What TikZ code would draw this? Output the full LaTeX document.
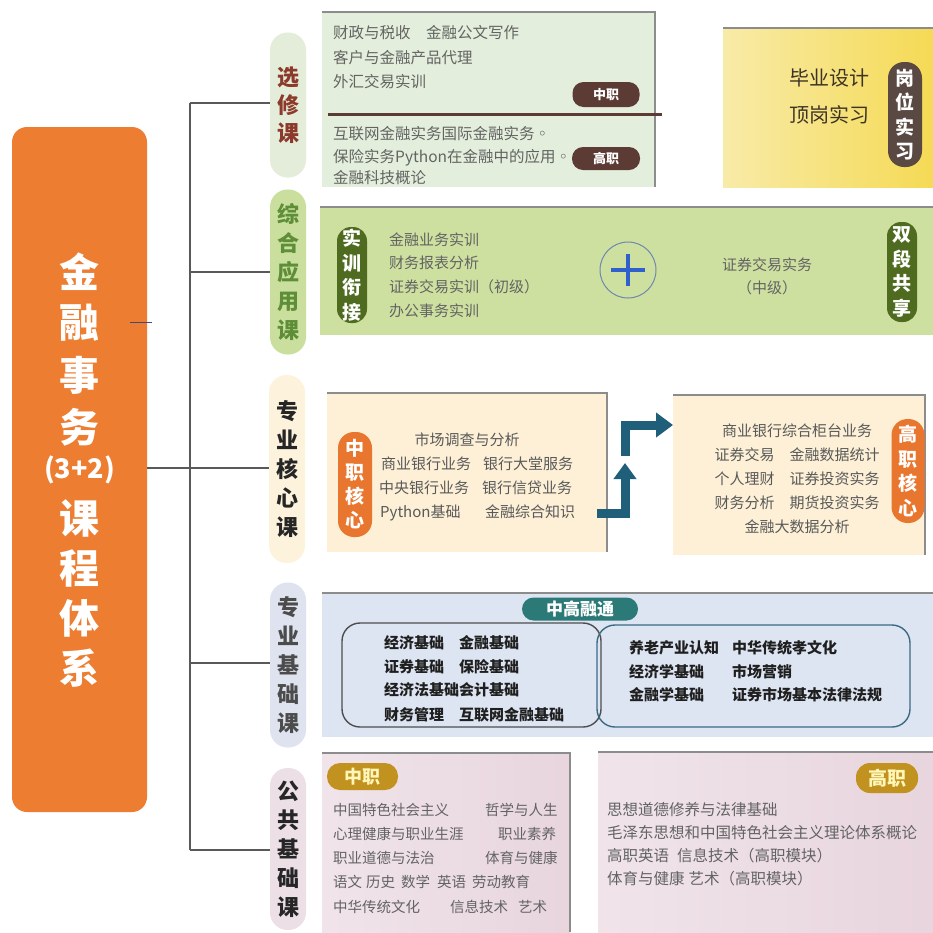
\documentclass[tikz,border=0pt]{standalone}
\usepackage{fontspec}
\setmainfont{Noto Sans CJK SC}
\usetikzlibrary{arrows.meta}
\definecolor{mainor}{HTML}{ED7D31}
\definecolor{treeg}{HTML}{595959}
\definecolor{txtg}{HTML}{636363}
\definecolor{shad}{HTML}{8C8C8C}
\definecolor{xxbox}{HTML}{E3EFDC}
\definecolor{xxpill}{HTML}{E4EDD9}
\definecolor{xxtxt}{HTML}{8B3A2B}
\definecolor{brownb}{HTML}{5B3B33}
\definecolor{gwl}{HTML}{F8EBA8}
\definecolor{gwr}{HTML}{F5DA55}
\definecolor{gwbadge}{HTML}{5A4842}
\definecolor{gwtxt}{HTML}{3D3425}
\definecolor{zhbox}{HTML}{CDE0A0}
\definecolor{zhpill}{HTML}{CADF9D}
\definecolor{zhtxt}{HTML}{5E8E38}
\definecolor{zhbadge}{HTML}{4E6B20}
\definecolor{plusc}{HTML}{3060CC}
\definecolor{circc}{HTML}{7088B0}
\definecolor{hxbox}{HTML}{FDF0D6}
\definecolor{hxpill}{HTML}{FDF3DC}
\definecolor{orb}{HTML}{E8762E}
\definecolor{arrc}{HTML}{1F5F7A}
\definecolor{jcbox}{HTML}{DEE5F2}
\definecolor{jcpill}{HTML}{DFE3EF}
\definecolor{jcbadge}{HTML}{2B7A77}
\definecolor{jcl}{HTML}{4D4D4D}
\definecolor{jcr}{HTML}{3A6A84}
\definecolor{ggl}{HTML}{F0E4EA}
\definecolor{ggr}{HTML}{E8D5DE}
\definecolor{ggpill}{HTML}{ECDFE6}
\definecolor{goldb}{HTML}{C1921F}
\definecolor{goldt}{HTML}{FFF6B8}
\begin{document}
\begin{tikzpicture}[x=1pt,y=-1pt,
  tree/.style={draw=treeg, line width=1.2pt},
  box/.style={anchor=north west, inner sep=0, outer sep=0, draw=none},
  shadowline/.style={draw=shad, line width=2.2pt},
  txt/.style={font=\fontsize{15}{15}\selectfont, text=txtg, inner sep=0, text height=12.4pt, text depth=1pt, anchor=west},
  ctxt/.style={txt, anchor=center},
  pill/.style={rounded corners=17.5pt, minimum width=36pt, inner sep=0, align=center, font=\fontsize{22}{29}\selectfont\bfseries},
  vbadge/.style={rounded corners=15pt, inner sep=0, align=center, text=white, font=\fontsize{19}{24.5}\selectfont\bfseries},
  hbadge/.style={rounded corners=11pt, inner sep=0, align=center, text=white, font=\fontsize{13}{13}\selectfont\bfseries},
  ttl/.style={text=white, inner sep=0, font=\fontsize{40}{40}\selectfont\bfseries},
  arr/.style={draw=arrc, line width=9pt, line join=miter},
]
\useasboundingbox (0,0) rectangle (933,932);
\fill[white] (0,0) rectangle (933,932);

% ---------- main title box ----------
\node[box, fill=mainor, rounded corners=15pt, minimum width=135pt, minimum height=685pt] (main) at (12,127) {};
\foreach \c/\yy [count=\i] in {金/272,融/323,事/375,务/427,课/518,程/568,体/618,系/668}
  \node[ttl] (ttl\i) at (79.5,\yy) {\c};
\node[ttl, font=\fontsize{27}{27}\selectfont\bfseries] (ttl32) at (79.5,470) {(3+2)};
\draw[draw=treeg!80!blue, line width=1pt] (130,322) -- (152,322);

% ---------- category pills ----------
\node[pill, fill=xxpill, text=xxtxt, minimum height=145pt, font=\fontsize{22}{28}\selectfont\bfseries] (p1) at (288,105) {选\\修\\课};
\node[pill, fill=zhpill, text=zhtxt, minimum height=165pt] (p2) at (288,272) {综\\合\\应\\用\\课};
\node[pill, fill=hxpill, text=black!85, minimum height=188pt] (p3) at (287,469) {专\\业\\核\\心\\课};
\node[pill, fill=jcpill, text=black!70, minimum height=165pt] (p4) at (288,665) {专\\业\\基\\础\\课};
\node[pill, fill=ggpill, text=black!85, minimum height=162pt] (p5) at (288,849) {公\\共\\基\\础\\课};

% ---------- tree ----------
\coordinate (trtop) at (190,103);
\coordinate (trbot) at (190,850);
\draw[tree] (trtop) -- (trbot);
\draw[tree] (main.east |- 0,468) -- (p3.west |- 0,468);
\draw[tree] (trtop) -- (p1.west |- trtop);
\draw[tree] (trtop |- p2.west) -- (p2.west);
\draw[tree] (trtop |- 0,663) -- (p4.west |- 0,663);
\draw[tree] (trbot) -- (p5.west |- trbot);

% ---------- 选修课 ----------
\node[box, fill=xxbox, minimum width=333pt, minimum height=175pt] (b1) at (322,12) {};
\draw[shadowline] (b1.north west) -- (b1.north east) -- (b1.south east);
\node[txt, font=\fontsize{15.5}{15.5}\selectfont] (x1a) at (333,33) {财政与税收　金融公文写作};
\node[txt, font=\fontsize{15.5}{15.5}\selectfont] (x1b) at (333,58) {客户与金融产品代理};
\node[txt, font=\fontsize{15.5}{15.5}\selectfont] (x1c) at (333,82) {外汇交易实训};
\draw[draw=brownb, line width=3pt] (328,114) -- (662,114);
\node[txt, font=\fontsize{15.5}{15.5}\selectfont] (x1d) at (333,134) {互联网金融实务国际金融实务◦};
\node[txt, font=\fontsize{15.5}{15.5}\selectfont] (x1e) at (333,157) {保险实务Python在金融中的应用◦};
\node[txt, font=\fontsize{15.5}{15.5}\selectfont] (x1f) at (333,178) {金融科技概论};
\node[hbadge, fill=brownb, minimum width=67pt, minimum height=25pt] (bz1) at (606,94.5) {中职};
\node[hbadge, fill=brownb, minimum width=68pt, minimum height=23pt] (bg1) at (606,158.5) {高职};

% ---------- 岗位实习 ----------
\node[box, left color=gwl, right color=gwr, minimum width=210pt, minimum height=159pt] (b2) at (723,28) {};
\draw[shadowline] (b2.north west) -- (b2.north east);
\node[ctxt, text=gwtxt, font=\fontsize{20}{20}\selectfont, text height=16.6pt, text depth=1.4pt] (g1) at (829,78) {毕业设计};
\node[ctxt, text=gwtxt, font=\fontsize{20}{20}\selectfont, text height=16.6pt, text depth=1.4pt] (g2) at (829,115) {顶岗实习};
\node[vbadge, fill=gwbadge, minimum width=34pt, minimum height=105pt, rounded corners=16pt] (gb) at (905,114.5) {岗\\位\\实\\习};

% ---------- 综合应用课 ----------
\node[box, fill=zhbox, minimum width=613pt, minimum height=128pt] (b3) at (320,207) {};
\draw[shadowline] (b3.north west) -- (b3.north east);
\node[vbadge, fill=zhbadge, minimum width=30pt, minimum height=96pt, rounded corners=14pt] (sb) at (352,275) {实\\训\\衔\\接};
\node[txt] (c1) at (389,240) {金融业务实训};
\node[txt] (c2) at (389,263) {财务报表分析};
\node[txt] (c3) at (389,287) {证券交易实训（初级）};
\node[txt] (c4) at (389,311) {办公事务实训};
\node[circle, draw=circc, line width=1pt, minimum size=56pt, inner sep=0] (plus) at (628,270) {};
\draw[draw=plusc, line width=4pt] ([xshift=-17pt]plus.center) -- ([xshift=17pt]plus.center);
\draw[draw=plusc, line width=4pt] ([yshift=-16pt]plus.center) -- ([yshift=16pt]plus.center);
\node[ctxt] (c5) at (767,265) {证券交易实务};
\node[ctxt] (c6) at (767,288) {（中级）};
\node[vbadge, fill=zhbadge, minimum width=30pt, minimum height=100pt, rounded corners=14pt] (db) at (902,272) {双\\段\\共\\享};

% ---------- 专业核心课 ----------
\node[box, fill=hxbox, minimum width=280pt, minimum height=159pt] (b4) at (327,393) {};
\draw[shadowline] (b4.north west) -- (b4.north east) -- (b4.south east);
\node[vbadge, fill=orb, minimum width=34pt, minimum height=105pt, rounded corners=16pt, font=\fontsize{19}{24}\selectfont\bfseries] (zb) at (355,484.5) {中\\职\\核\\心};
\node[ctxt, text=black!65] (k1) at (467,440) {市场调查与分析};
\node[txt, text=black!65] (k2) at (381,464) {商业银行业务};
\node[txt, text=black!65] (k3) at (483,464) {银行大堂服务};
\node[txt, text=black!65] (k4) at (379,488) {中央银行业务};
\node[txt, text=black!65] (k5) at (482,488) {银行信贷业务};
\node[txt, text=black!65] (k6) at (380,512) {Python基础};
\node[txt, text=black!65] (k7) at (485,512) {金融综合知识};

% ---------- 高职核心 ----------
\node[box, fill=hxbox, minimum width=252pt, minimum height=160pt] (b5) at (673,395) {};
\draw[shadowline] (b5.north west) -- (b5.north east) -- (b5.south east);
\node[ctxt, text=black!65] (h1) at (797,431) {商业银行综合柜台业务};
\node[ctxt, text=black!65] (h2) at (797,455) {证券交易　金融数据统计};
\node[ctxt, text=black!65] (h3) at (797,479) {个人理财　证券投资实务};
\node[ctxt, text=black!65] (h4) at (797,503) {财务分析　期货投资实务};
\node[ctxt, text=black!65] (h5) at (797,527) {金融大数据分析};
\node[vbadge, fill=orb, minimum width=33pt, minimum height=104pt, rounded corners=16pt, font=\fontsize{19}{24.5}\selectfont\bfseries] (gb2) at (908,471) {高\\职\\核\\心};

% ---------- arrow between cores ----------
\coordinate (a1) at (597,513);
\coordinate (a2) at (625,513);
\coordinate (a3) at (625,463);
\coordinate (a4) at (625,456);
\coordinate (a5) at (625,425);
\draw[arr, -{Triangle[width=22pt,length=16pt]}] (a1) -- (a2) -- (a3);
\draw[arr, -{Triangle[width=24pt,length=17pt]}] (a4) -- (a5) -- (b5.west |- a5);

% ---------- 专业基础课 ----------
\node[box, fill=jcbox, minimum width=611pt, minimum height=144pt] (b6) at (322,593) {};
\draw[shadowline] (b6.north west) -- (b6.north east);
\node[box, draw=jcl, line width=1.4pt, rounded corners=18pt, minimum width=259pt, minimum height=104pt] (lr) at (342,623) {};
\node[box, draw=jcr, line width=1.4pt, rounded corners=18pt, minimum width=313pt, minimum height=102pt] (rr) at (597,625) {};
\node[rounded corners=11.5pt, fill=jcbadge, minimum width=116pt, minimum height=23pt, inner sep=0, text=white, font=\fontsize{17}{17}\selectfont\bfseries] (zg) at (580,609) {中高融通};
\node[txt, text=black!88, font=\fontsize{15}{15}\selectfont\bfseries] (j1) at (384,643) {经济基础　金融基础};
\node[txt, text=black!88, font=\fontsize{15}{15}\selectfont\bfseries] (j2) at (384,667) {证券基础　保险基础};
\node[txt, text=black!88, font=\fontsize{15}{15}\selectfont\bfseries] (j3) at (384,690) {经济法基础会计基础};
\node[txt, text=black!88, font=\fontsize{15}{15}\selectfont\bfseries] (j4) at (384,715) {财务管理　互联网金融基础};
\node[txt, text=black!88, font=\fontsize{15}{15}\selectfont\bfseries] (r1) at (629,648) {养老产业认知};
\node[txt, text=black!88, font=\fontsize{15}{15}\selectfont\bfseries] (r2) at (732,648) {中华传统孝文化};
\node[txt, text=black!88, font=\fontsize{15}{15}\selectfont\bfseries] (r3) at (629,672) {经济学基础};
\node[txt, text=black!88, font=\fontsize{15}{15}\selectfont\bfseries] (r4) at (732,672) {市场营销};
\node[txt, text=black!88, font=\fontsize{15}{15}\selectfont\bfseries] (r5) at (629,695) {金融学基础};
\node[txt, text=black!88, font=\fontsize{15}{15}\selectfont\bfseries] (r6) at (732,695) {证券市场基本法律法规};

% ---------- 公共基础课 ----------
\node[box, left color=ggl, right color=ggr, minimum width=248pt, minimum height=179pt] (b7) at (322,753) {};
\draw[shadowline] (b7.north west) -- (b7.north east) -- (b7.south east);
\node[rounded corners=13pt, fill=goldb, minimum width=71pt, minimum height=27pt, inner sep=0, text=goldt, font=\fontsize{18}{18}\selectfont\bfseries] (y1) at (362.5,776.5) {中职};
\node[txt, font=\fontsize{14.5}{14.5}\selectfont] (q1) at (333,810) {中国特色社会主义};
\node[txt, font=\fontsize{14.5}{14.5}\selectfont] (q2) at (485,810) {哲学与人生};
\node[txt, font=\fontsize{14.5}{14.5}\selectfont] (q3) at (333,834) {心理健康与职业生涯};
\node[txt, font=\fontsize{14.5}{14.5}\selectfont] (q4) at (498,834) {职业素养};
\node[txt, font=\fontsize{14.5}{14.5}\selectfont] (q5) at (333,858) {职业道德与法治};
\node[txt, font=\fontsize{14.5}{14.5}\selectfont] (q6) at (485,858) {体育与健康};
\node[txt, font=\fontsize{14.5}{14.5}\selectfont] (q7) at (333,882) {语文\hspace{4pt}历史\hspace{6pt}数学\hspace{7pt}英语\hspace{6pt}劳动教育};
\node[txt, font=\fontsize{14.5}{14.5}\selectfont] (q8) at (333,907) {中华传统文化};
\node[txt, font=\fontsize{14.5}{14.5}\selectfont] (q9) at (450,907) {信息技术\hspace{10pt}艺术};

\node[box, left color=ggl, right color=ggr, minimum width=335pt, minimum height=180pt] (b8) at (598,752) {};
\draw[shadowline] (b8.north west) -- (b8.north east);
\node[rounded corners=14pt, fill=goldb, minimum width=62pt, minimum height=30pt, inner sep=0, text=goldt, font=\fontsize{19}{19}\selectfont\bfseries] (y2) at (887,778) {高职};
\node[txt, font=\fontsize{15.5}{15.5}\selectfont] (s1) at (607,810) {思想道德修养与法律基础};
\node[txt, font=\fontsize{15.5}{15.5}\selectfont] (s2) at (607,833) {毛泽东思想和中国特色社会主义理论体系概论};
\node[txt, font=\fontsize{15.5}{15.5}\selectfont] (s3) at (607,856) {高职英语\hspace{8pt}信息技术（高职模块）};
\node[txt, font=\fontsize{15.5}{15.5}\selectfont] (s4) at (607,879) {体育与健康\hspace{4pt}艺术（高职模块）};
\end{tikzpicture}
\end{document}
